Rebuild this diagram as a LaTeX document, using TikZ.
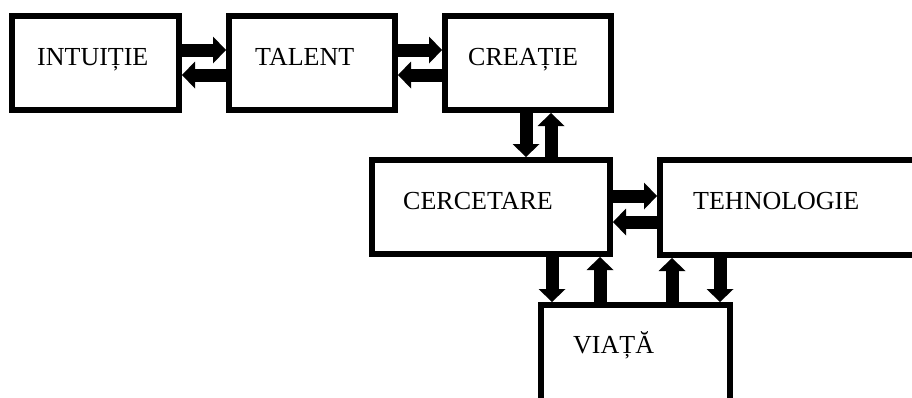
\documentclass[tikz,border=0pt]{standalone}
\usepackage{fontspec}
\setmainfont{Liberation Serif}
\usetikzlibrary{arrows.meta}
\begin{document}
\begin{tikzpicture}[x=1pt,y=-1pt,
  box/.style={draw, line width=6pt, rectangle, inner sep=0pt, fill=white},
  lbl/.style={anchor=base west, inner sep=0pt, font=\fontsize{26}{30}\selectfont},
  barrow/.style={line width=13pt, -{Triangle[length=13pt,width=27pt,line width=0pt]}}]
\useasboundingbox (0,0) rectangle (912,397);
\clip (0,0) rectangle (912,397);
\fill[white] (0,0) rectangle (912,397);
% boxes
\node[box, minimum width=167pt, minimum height=94pt] (intu) at (95.5,63) {};
\node[box, minimum width=166pt, minimum height=94pt] (tal) at (312,63) {};
\node[box, minimum width=166pt, minimum height=94pt] (crea) at (528,63) {};
\node[box, minimum width=238pt, minimum height=94pt] (cerc) at (491,207) {};
\node[box, minimum width=277pt, minimum height=95pt] (tehn) at (798.5,207.5) {};
\node[box, minimum width=189pt, minimum height=112pt] (viata) at (635.5,361) {};
% labels
\node[lbl] (tintu) at (37,65) {INTUIȚIE};
\node[lbl] (ttal) at (255,65) {TALENT};
\node[lbl] (tcrea) at (468,65) {CREAȚIE};
\node[lbl] (tcerc) at (403,209) {CERCETARE};
\node[lbl] (ttehn) at (693,209) {TEHNOLOGIE};
\node[lbl] (tviata) at (573,353) {VIAȚĂ};
% arrows
\draw[barrow] (intu.east |- 0,50) -- (tal.west |- 0,50);
\draw[barrow] (tal.west |- 0,75) -- (intu.east |- 0,75);
\draw[barrow] (tal.east |- 0,50) -- (crea.west |- 0,50);
\draw[barrow] (crea.west |- 0,75) -- (tal.east |- 0,75);
\draw[barrow] (crea.south -| 526,0) -- (cerc.north -| 526,0);
\draw[barrow] (cerc.north -| 551,0) -- (crea.south -| 551,0);
\draw[barrow] (cerc.east |- 0,196) -- (tehn.west |- 0,196);
\draw[barrow] (tehn.west |- 0,222) -- (cerc.east |- 0,222);
\draw[barrow] (cerc.south -| 552,0) -- (viata.north -| 552,0);
\draw[barrow] (viata.north -| 600,0) -- (cerc.south -| 600,0);
\draw[barrow] (viata.north -| 672,0) -- (tehn.south -| 672,0);
\draw[barrow] (tehn.south -| 720,0) -- (viata.north -| 720,0);
\end{tikzpicture}
\end{document}
